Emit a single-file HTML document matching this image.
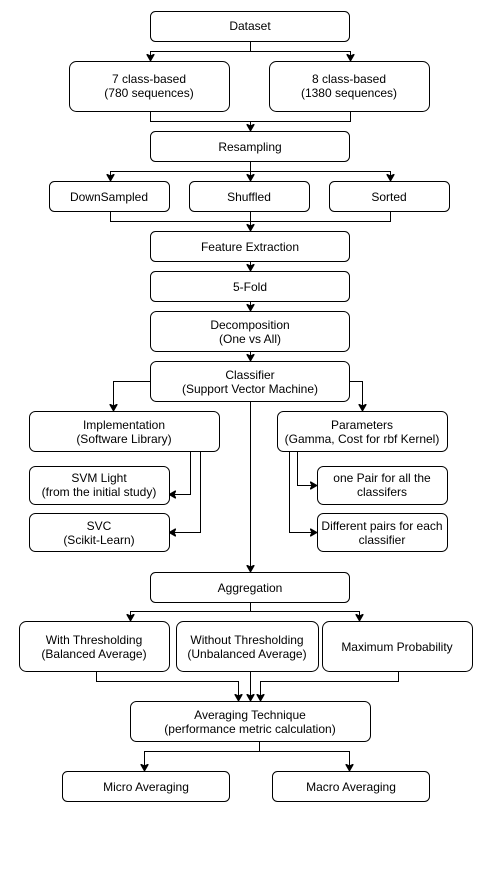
<!DOCTYPE html>
<html><head><meta charset="utf-8"><style>
html,body{margin:0;padding:0;background:#fff}
svg{display:block}
text{font-family:"Liberation Sans",Arial,sans-serif;font-size:12px;fill:#000;text-anchor:middle}
rect{fill:#fff;stroke:#000;stroke-width:1}
path{fill:none;stroke:#000;stroke-width:1}
</style></head><body>
<svg width="492" height="893" viewBox="0 0 492 893">
<defs><marker id="a" markerWidth="8" markerHeight="8" refX="7" refY="4" orient="auto" markerUnits="userSpaceOnUse"><path d="M0,0 L7,4 L0,8 L2,4 Z" style="fill:#000;stroke:#000"/></marker></defs>
<!-- connectors -->
<path d="M250.5,41 V51.5 H150.5 V61" marker-end="url(#a)"/>
<path d="M250.5,51.5 H350.5 V61" marker-end="url(#a)"/>
<path d="M150.5,111 V121.5 H350.5 V111"/>
<path d="M250.5,121 V131" marker-end="url(#a)"/>
<path d="M250.5,161 V171.5 H110.5 V181" marker-end="url(#a)"/>
<path d="M250.5,171 V181" marker-end="url(#a)"/>
<path d="M250.5,171.5 H390.5 V181" marker-end="url(#a)"/>
<path d="M110.5,211 V221.5 H390.5 V211"/>
<path d="M250.5,211 V231" marker-end="url(#a)"/>
<path d="M250.5,261 V271" marker-end="url(#a)"/>
<path d="M250.5,301 V311" marker-end="url(#a)"/>
<path d="M250.5,351 V361" marker-end="url(#a)"/>
<path d="M150,381.5 H113.5 V411" marker-end="url(#a)"/>
<path d="M350,381.5 H362.5 V411" marker-end="url(#a)"/>
<path d="M250.5,401 V572" marker-end="url(#a)"/>
<path d="M190.5,451 V494.5 H169" marker-end="url(#a)"/>
<path d="M200.5,451 V532.5 H169" marker-end="url(#a)"/>
<path d="M297.5,451 V485.5 H317" marker-end="url(#a)"/>
<path d="M289.5,451 V532.5 H317" marker-end="url(#a)"/>
<path d="M250.5,602 V611.5 H130.5 V621" marker-end="url(#a)"/>
<path d="M250.5,611.5 H359.5 V621" marker-end="url(#a)"/>
<path d="M96.5,671 V681.5 H238.5 V701" marker-end="url(#a)"/>
<path d="M250.5,671 V701" marker-end="url(#a)"/>
<path d="M398.5,671 V681.5 H260.5 V701" marker-end="url(#a)"/>
<path d="M259.5,741 V751.5 H144.5 V771" marker-end="url(#a)"/>
<path d="M259.5,751.5 H349.5 V771" marker-end="url(#a)"/>
<!-- boxes -->
<rect x="150.5" y="11.5" width="199" height="30" rx="5"/><text x="250" y="30">Dataset</text>
<rect x="69.5" y="61.5" width="160" height="50" rx="7"/><text x="149" y="83">7 class-based</text><text x="149" y="97">(780 sequences)</text>
<rect x="269.5" y="61.5" width="160" height="50" rx="7"/><text x="349" y="83">8 class-based</text><text x="349" y="97">(1380 sequences)</text>
<rect x="150.5" y="131.5" width="199" height="30" rx="5"/><text x="250" y="151">Resampling</text>
<rect x="49.5" y="181.5" width="120" height="30" rx="5"/><text x="109" y="201">DownSampled</text>
<rect x="189.5" y="181.5" width="120" height="30" rx="5"/><text x="249" y="201">Shuffled</text>
<rect x="329.5" y="181.5" width="120" height="30" rx="5"/><text x="389" y="201">Sorted</text>
<rect x="150.5" y="231.5" width="199" height="30" rx="5"/><text x="250" y="251">Feature Extraction</text>
<rect x="150.5" y="271.5" width="199" height="30" rx="5"/><text x="250" y="291">5-Fold</text>
<rect x="150.5" y="311.5" width="199" height="40" rx="6"/><text x="250" y="329">Decomposition</text><text x="250" y="343">(One vs All)</text>
<rect x="150.5" y="361.5" width="199" height="40" rx="6"/><text x="250" y="379">Classifier</text><text x="250" y="393">(Support Vector Machine)</text>
<rect x="29.5" y="411.5" width="190" height="40" rx="6"/><text x="124" y="429">Implementation</text><text x="124" y="443">(Software Library)</text>
<rect x="277.5" y="411.5" width="170" height="40" rx="6"/><text x="362" y="429">Parameters</text><text x="362" y="443">(Gamma, Cost for rbf Kernel)</text>
<rect x="29.5" y="466.5" width="140" height="38" rx="6"/><text x="99" y="482">SVM Light</text><text x="99" y="496">(from the initial study)</text>
<rect x="29.5" y="513.5" width="140" height="38" rx="6"/><text x="99" y="530">SVC</text><text x="99" y="544">(Scikit-Learn)</text>
<rect x="317.5" y="466.5" width="130" height="38" rx="6"/><text x="382" y="482">one Pair for all the</text><text x="382" y="496">classifers</text>
<rect x="317.5" y="513.5" width="130" height="38" rx="6"/><text x="382" y="530">Different pairs for each</text><text x="382" y="544">classifier</text>
<rect x="150.5" y="572.5" width="199" height="30" rx="5"/><text x="250" y="592">Aggregation</text>
<rect x="19.5" y="621.5" width="150" height="50" rx="7"/><text x="94" y="644">With Thresholding</text><text x="94" y="658">(Balanced Average)</text>
<rect x="176.5" y="621.5" width="142" height="50" rx="7"/><text x="247" y="644">Without Thresholding</text><text x="247" y="658">(Unbalanced Average)</text>
<rect x="322.5" y="621.5" width="150" height="50" rx="7"/><text x="397" y="651">Maximum Probability</text>
<rect x="130.5" y="701.5" width="240" height="40" rx="6"/><text x="250" y="719">Averaging Technique</text><text x="250" y="733">(performance metric calculation)</text>
<rect x="62.5" y="771.5" width="167" height="30" rx="5"/><text x="146" y="791">Micro Averaging</text>
<rect x="272.5" y="771.5" width="157" height="30" rx="5"/><text x="351" y="791">Macro Averaging</text>
</svg>
</body></html>
